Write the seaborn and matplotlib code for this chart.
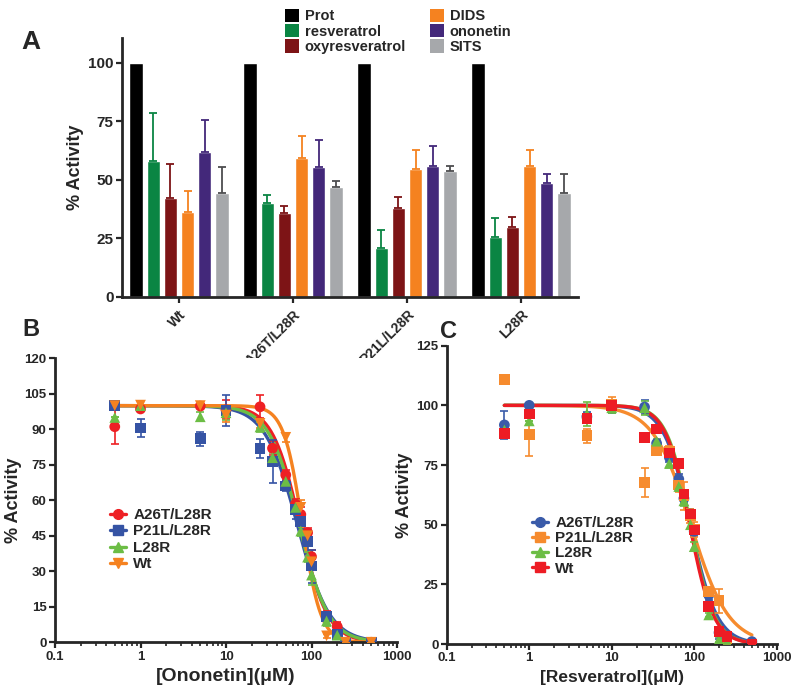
import numpy as np
import pandas as pd
import seaborn as sns
import matplotlib
matplotlib.use("Agg")
from matplotlib import pyplot as plt
from matplotlib.patches import Patch
from matplotlib.lines import Line2D

# ---- panel A data ----
mutants = ["Wt", "A26T/L28R", "P21L/L28R", "L28R"]
compounds = ["Prot", "resveratrol", "oxyresveratrol", "DIDS", "ononetin", "SITS"]
prot = [100, 100, 100, 100]
resveratrol = [58, 40.2, 21, 25.4]
resveratrol_err = [20.4, 3.1, 7.6, 8.1]
oxyresveratrol = [42.2, 35.8, 37.8, 29.8]
oxyresveratrol_err = [14.4, 3.1, 4.7, 4.4]
dids = [36.1, 59.4, 54.4, 56]
dids_err = [9.2, 9.4, 8.3, 6.7]
ononetin = [62, 55.6, 56, 48.7]
ononetin_err = [13.4, 11.4, 8.4, 3.6]
sits = [44.4, 47, 53.7, 44.2]
sits_err = [10.9, 2.3, 2, 8.4]

# ---- panel B / C data ----
conc = [0.5, 1, 5, 10, 25, 35, 50, 65, 75, 90, 100, 150, 200, 250, 500]
series_names = ["A26T/L28R", "P21L/L28R", "L28R", "Wt"]

ono_a26t = [91.1, 98.6, 99.8, 98.2, 99.5, 82, 70.7, 58.4, 54, 46.3, 36.2, 11.1, 6.6, 0, 0]
ono_a26t_err = [7.3, 0, 0, 4, 4.8, 3, 2, 2, 3, 2, 3, 2, 2, 0, 0]
ono_p21l = [100, 90.5, 86, 98, 82, 76.5, 66, 56, 51, 42.5, 32.2, 11, 3.2, 0, 0]
ono_p21l_err = [0, 3.9, 3, 6.5, 4, 9, 2, 4, 3, 5, 7, 2, 2, 0, 0]
ono_l28r = [95, 100, 95.3, 97, 91, 78, 68, 57, 47, 36, 28.4, 9, 3, 0, 0]
ono_l28r_err = [0, 0, 2, 3, 2, 2, 2, 2, 2, 2, 4, 2, 1, 0, 0]
ono_wt = [100, 100.2, 100, 96, 92.5, np.nan, 86.6, np.nan, 57, 45, 34, 2.7, np.nan, 0, 0]
ono_wt_err = [0, 0, 0, 3, 2, 0, 2, 0, 3, 2, 2, 1, 0, 0, 0]

res_a26t = [91.8, 100, 95.3, 99, 99.3, 84.1, 78.2, 69.1, 61, 54.4, 47.2, 20.5, 4.8, 3.1, 1]
res_a26t_err = [6, 0, 2, 2, 3, 1, 2, 2, 2, 2, 2, 2, 2.5, 1, 0]
res_p21l = [110.9, 87.9, 87.3, 100.6, 67.6, 81, 80.9, 66.6, 62, 53.6, 48, 21.9, 18.1, 0, 0]
res_p21l_err = [0, 9, 3, 3, 6, 1, 2, 3, 6, 3, 3, 2, 5, 0, 0]
res_l28r = [89.7, 93.5, 96.5, 99, 99, 85, 75.7, 66, 60, 50, 40.8, 12.2, 2, 1, 0]
res_l28r_err = [1, 0, 5, 2, 3, 1, 2, 2, 2, 2, 2, 1, 1, 1, 0]
res_wt = [88.3, 96.4, 94.6, 100, 86.6, 90.1, 80, 75.7, 62.9, 54.5, 47.8, 15.6, 5.4, 3, 0]
res_wt_err = [1, 1, 1, 0, 1, 1, 1, 1, 1, 1, 1, 1, 1, 1, 0]

# fitted dose-response parameters (IC50, hill slope)
ono_fit = {"A26T/L28R": (73, 2.7), "P21L/L28R": (68, 2.3), "L28R": (71, 2.5), "Wt": (78, 4.0)}
res_fit = {"A26T/L28R": (90, 2.7), "P21L/L28R": (91, 1.9), "L28R": (90, 3.0), "Wt": (88, 3.0)}

sns.set_style("ticks")
plt.rcParams["font.family"] = ["Liberation Sans", "DejaVu Sans"]
plt.rcParams["font.weight"] = "bold"
plt.rcParams["axes.labelweight"] = "bold"
plt.rcParams["axes.linewidth"] = 2
plt.rcParams["xtick.major.width"] = 1.6
plt.rcParams["ytick.major.width"] = 1.6
plt.rcParams["xtick.minor.width"] = 1.2

fig = plt.figure(figsize=(8, 6.96), dpi=100)

# ================= panel A =================
axA = fig.add_axes([0.1525, 0.5733, 0.57, 0.3721])
bar_colors = ["#000000", "#0a8543", "#7d1416", "#f58220", "#43287a", "#a6a8ab"]
err_colors = [None, "#0a8543", "#7d1416", "#f58220", "#43287a", "#4d4d4f"]
vals = [prot, resveratrol, oxyresveratrol, dids, ononetin, sits]
errs = [None, resveratrol_err, oxyresveratrol_err, dids_err, ononetin_err, sits_err]

df = pd.DataFrame({
    "mutant": mutants * len(compounds),
    "compound": np.repeat(compounds, len(mutants)),
    "value": np.concatenate(vals),
})
sns.barplot(data=df, x="mutant", y="value", hue="compound", palette=bar_colors,
            width=0.9, gap=0.2, saturation=1, legend=False, ax=axA)
for cont, v, e, c in zip(axA.containers, vals, errs, err_colors):
    if e is None:
        continue
    xs = [b.get_x() + b.get_width() / 2 for b in cont]
    axA.errorbar(xs, v, yerr=[np.zeros(len(e)), e], fmt="none", ecolor=c,
                 elinewidth=1.3, capsize=3, capthick=1.3)
axA.set_ylim(0, 110.5)
axA.set_xlim(-0.5, 3.5)
axA.set_yticks([0, 25, 50, 75, 100])
axA.set_xlabel("")
axA.set_ylabel("% Activity", fontsize=13, labelpad=3)
axA.tick_params(axis="y", labelsize=11, length=4, pad=2)
axA.tick_params(axis="x", labelsize=10, length=4)
for lab in axA.get_xticklabels():
    lab.set_rotation(45)
    lab.set_ha("right")
    lab.set_rotation_mode("anchor")
sns.despine(ax=axA)
handles = [Patch(facecolor=c, edgecolor="none") for c in bar_colors]
fig.legend(handles, compounds, loc="upper left", bbox_to_anchor=(0.34, 1.006),
           ncol=2, frameon=False, fontsize=10.5, handlelength=0.95, handleheight=1.0,
           handletextpad=0.4, columnspacing=1.65, labelspacing=0.05)
fig.text(0.027, 0.93, "A", fontsize=19, fontweight="bold")


def dose_panel(ax, y_list, e_list, fits, colors, markers, order, xlabel, ymax, yticks):
    xfit = np.logspace(np.log10(0.5), np.log10(500), 300)
    for i in order:
        name = series_names[i]
        ic50, h = fits[name]
        curve = pd.DataFrame({"x": xfit, "y": 100 / (1 + (xfit / ic50) ** h)})
        sns.lineplot(data=curve, x="x", y="y", color=colors[i], lw=2.4, ax=ax, zorder=2 + i * 0.1)
    for i in order:
        pts = pd.DataFrame({"x": conc, "y": y_list[i]})
        ax.errorbar(conc, y_list[i], yerr=e_list[i], fmt="none", ecolor=colors[i],
                    elinewidth=1.2, capsize=3, capthick=1.2, zorder=3 + i * 0.1)
        sns.scatterplot(data=pts, x="x", y="y", color=colors[i], marker=markers[i],
                        s=60, edgecolor="none", ax=ax, zorder=4 + i * 0.1)
    ax.set_xscale("log")
    ax.set_xlim(0.1, 1000)
    ax.set_ylim(0, ymax)
    ax.set_yticks(yticks)
    ax.set_xticks([0.1, 1, 10, 100, 1000])
    ax.set_xticklabels(["0.1", "1", "10", "100", "1000"])
    ax.set_xlabel(xlabel)
    ax.set_ylabel("% Activity", fontsize=13, labelpad=2)
    ax.tick_params(axis="both", which="major", labelsize=9.5, length=4, pad=2)
    ax.tick_params(axis="x", which="minor", length=3)
    sns.despine(ax=ax)
    hd = [Line2D([], [], color=colors[i], marker=markers[i], lw=2.4, markersize=7)
          for i in range(4)]
    return hd


# ================= panel B =================
axB = fig.add_axes([0.06875, 0.0772, 0.4275, 0.408])
colB = ["#ee2024", "#3553a4", "#6cbd45", "#f58220"]
mkB = ["o", "s", "^", "v"]
hdB = dose_panel(axB, [ono_a26t, ono_p21l, ono_l28r, ono_wt],
                 [ono_a26t_err, ono_p21l_err, ono_l28r_err, ono_wt_err],
                 ono_fit, colB, mkB, [3, 2, 1, 0], "[Ononetin](\u03bcM)", 120,
                 [0, 15, 30, 45, 60, 75, 90, 105, 120])
axB.xaxis.label.set_fontsize(14)
axB.legend(hdB, series_names, loc="upper left", bbox_to_anchor=(0.135, 0.505),
           frameon=False, fontsize=11, handlelength=1.0, handletextpad=0.5,
           labelspacing=0.16, borderaxespad=0.2)
fig.text(0.028, 0.517, "B", fontsize=17, fontweight="bold")

# ================= panel C =================
axC = fig.add_axes([0.5584, 0.0747, 0.4125, 0.4286])
colC = ["#3a5ba9", "#f68b2e", "#6cbd45", "#ed1c24"]
mkC = ["o", "s", "^", "s"]
hdC = dose_panel(axC, [res_a26t, res_p21l, res_l28r, res_wt],
                 [res_a26t_err, res_p21l_err, res_l28r_err, res_wt_err],
                 res_fit, colC, mkC, [3, 2, 1, 0], "[Resveratrol](\u03bcM)", 125,
                 [0, 25, 50, 75, 100, 125])
axC.xaxis.label.set_fontsize(12.5)
axC.legend(hdC, series_names, loc="upper left", bbox_to_anchor=(0.232, 0.46),
           frameon=False, fontsize=11, handlelength=1.0, handletextpad=0.5,
           labelspacing=0.08, borderaxespad=0.2)
fig.text(0.55, 0.515, "C", fontsize=17, fontweight="bold")

fig.savefig("out.png", dpi=100)
